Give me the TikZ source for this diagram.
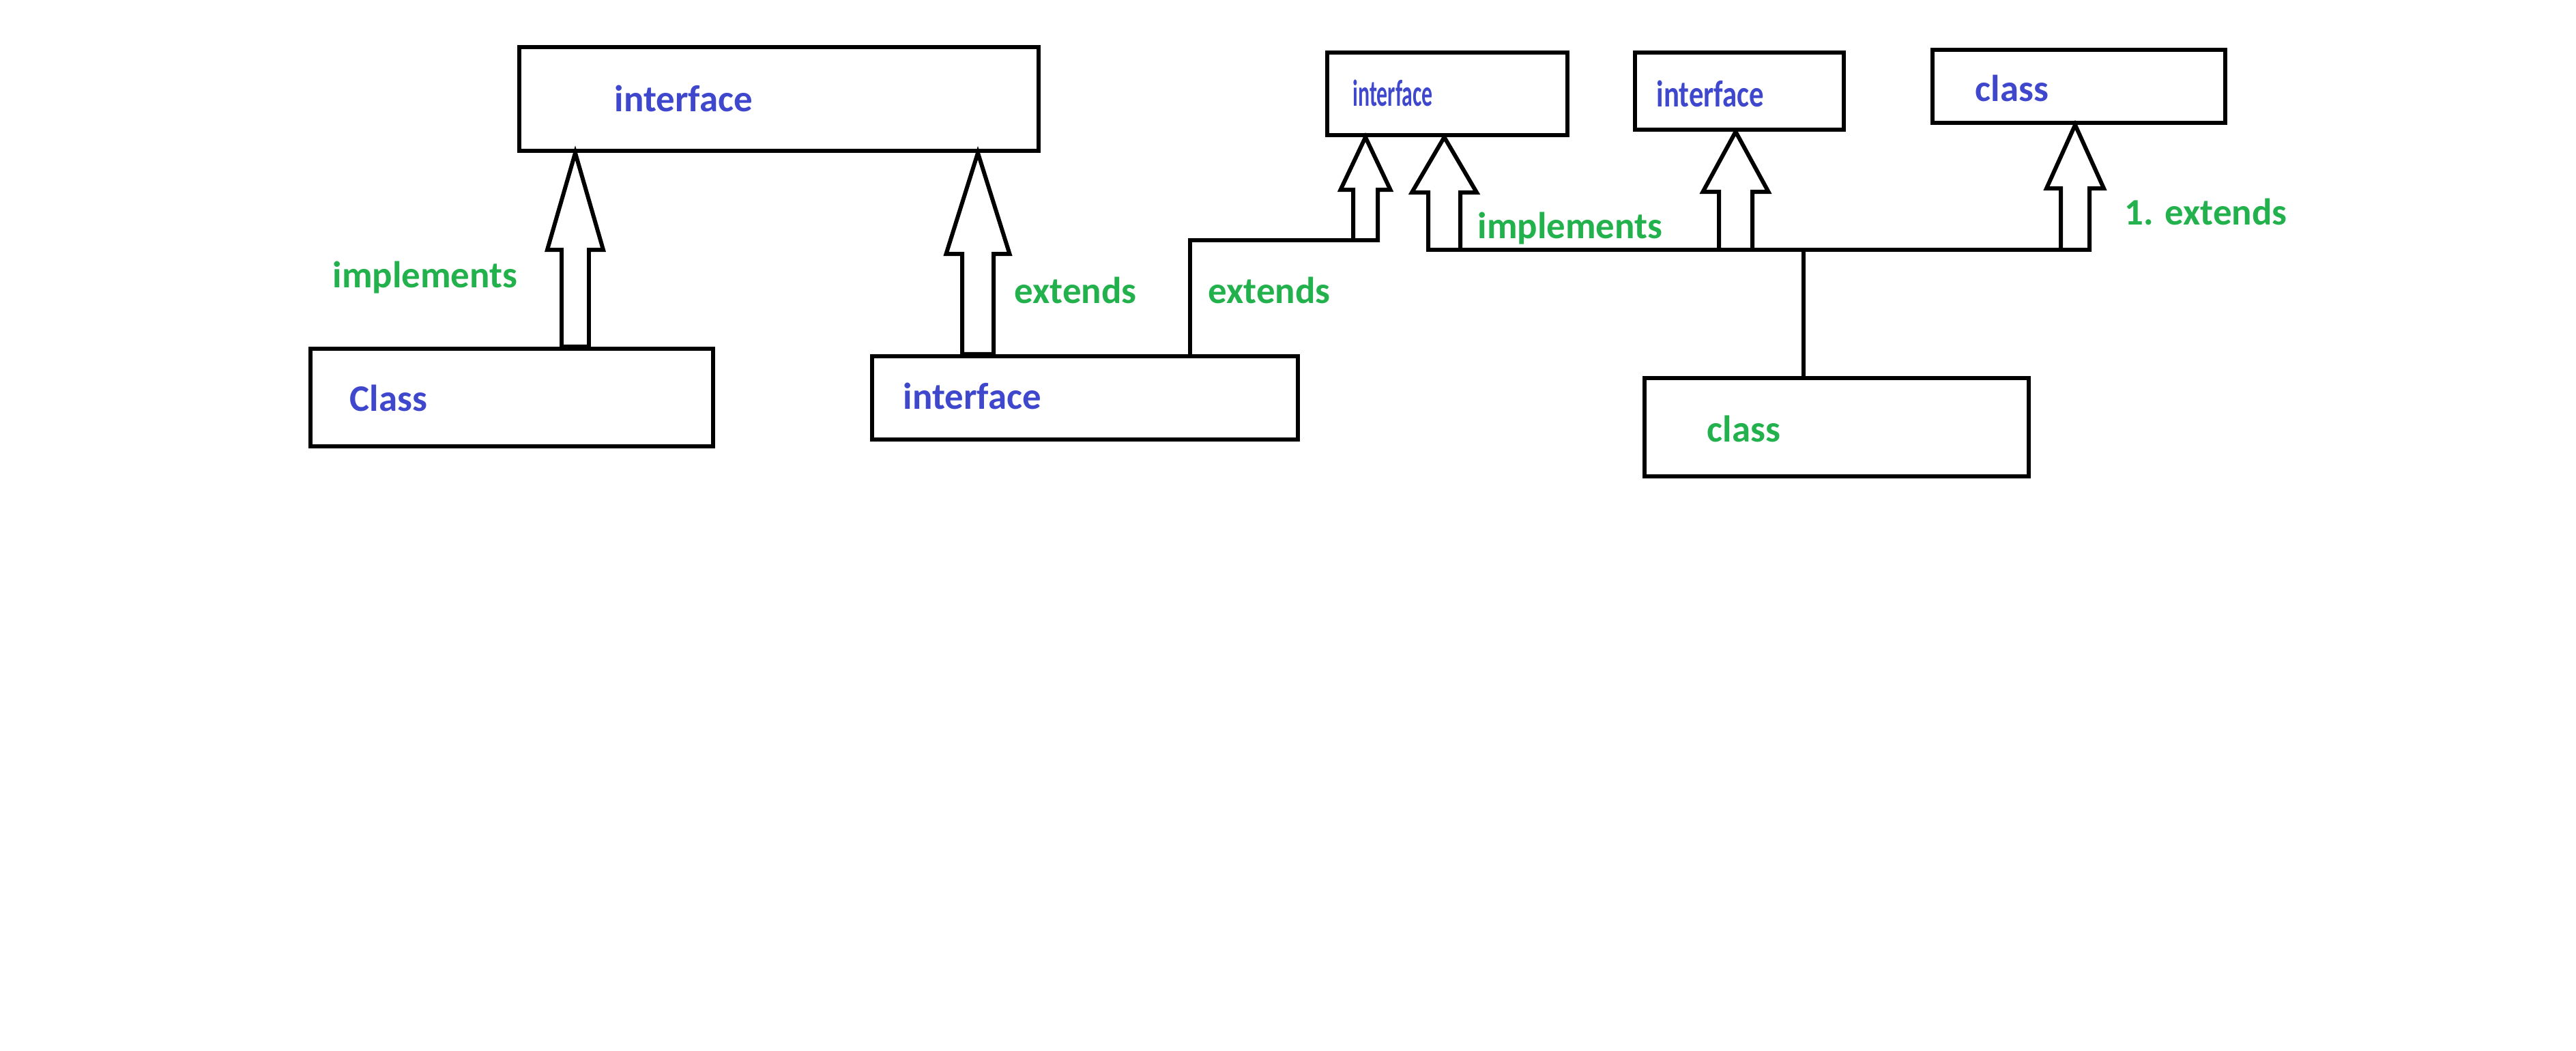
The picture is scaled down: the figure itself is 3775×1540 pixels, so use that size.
\documentclass[tikz,border=0pt]{standalone}
\usepackage{fontspec}
\setmainfont{Carlito}
\usetikzlibrary{calc}

\definecolor{ifblue}{RGB}{63,72,204}
\definecolor{relgreen}{RGB}{34,177,76}

\tikzset{
  box/.style={draw=black, line width=1.7pt, rectangle, inner sep=0pt},
  lbl/.style={anchor=base west, inner sep=0pt, font=\fontsize{15.6}{18}\selectfont\bfseries},
  iftext/.style={lbl, text=ifblue},
  reltext/.style={lbl, text=relgreen},
  conn/.style={draw=black, line width=1.7pt, line join=miter},
  blockarrow/.style={conn, fill=white}
}

% hollow UML-style arrow: #1 name, #2 column x, #3 tip anchor, #4 foot anchor,
% #5 half shaft width, #6 half head width, #7 head length
\newcommand{\hollowarrow}[7]{%
  \coordinate (#1col) at (#2,0);
  \coordinate (#1tip) at (#1col |- #3);
  \coordinate (#1foot) at (#1col |- #4);
  \draw[blockarrow] (#1tip) -- ($(#1tip)+(#6,#7)$) -- ($(#1tip)+(#5,#7)$)
    -- ($(#1foot)+(#5,0)$) -- ($(#1foot)+(-#5,0)$) -- ($(#1tip)+(-#5,#7)$)
    -- ($(#1tip)+(-#6,#7)$) -- cycle;
}

\begin{document}
\begin{tikzpicture}[x=0.01cm, y=-0.01cm]
\useasboundingbox (0,0) rectangle (3775,1540);

% boxes
\node[box, minimum width=7.61cm, minimum height=1.52cm] (itop) at (1141.5,145) {};
\node[box, minimum width=5.90cm, minimum height=1.43cm] (cls) at (750,582.5) {};
\node[box, minimum width=6.24cm, minimum height=1.22cm] (iftwo) at (1590,583) {};
\node[box, minimum width=3.52cm, minimum height=1.21cm] (ifthree) at (2121,137.5) {};
\node[box, minimum width=3.06cm, minimum height=1.13cm] (iffour) at (2549,133.5) {};
\node[box, minimum width=4.29cm, minimum height=1.07cm] (clstop) at (3046.5,126.5) {};
\node[box, minimum width=5.63cm, minimum height=1.44cm] (clsbot) at (2691.5,626) {};

% box texts
\node[iftext] (titop) at (900,164) {interface};
\node[iftext] (tcls) at (512,603) {Class};
\node[iftext] (tiftwo) at (1323,600) {interface};
\node[iftext, xscale=0.58] (tifthree) at (1982,156) {interface};
\node[iftext, xscale=0.78] (tiffour) at (2427,157) {interface};
\node[iftext] (tclstop) at (2894,149) {class};
\node[reltext] (tclsbot) at (2501,648) {class};

% left pair: implements / extends
\hollowarrow{aa}{843}{itop.south}{cls.north}{20}{41}{142}
\hollowarrow{ab}{1433}{itop.south}{iftwo.north}{23}{46.5}{148}

% routed extends from the lower interface
\coordinate (bendx) at (1744,0);
\coordinate (extfoot) at (2001,352);
\hollowarrow{ac}{2001}{ifthree.south}{extfoot}{18}{36.5}{77}
\draw[conn] (bendx |- iftwo.north) |- (extfoot);

% class with one bus to two interfaces and a superclass
\coordinate (busl) at (2093,366);
\coordinate (busr) at (3062,366);
\coordinate (drop) at (2643,0);
\hollowarrow{ad}{2116.5}{ifthree.south}{busl}{23.5}{47.5}{81}
\hollowarrow{ae}{2543.5}{iffour.south}{busl}{24.5}{48}{88}
\hollowarrow{af}{3041}{clstop.south}{busr}{21}{42}{93}
\draw[conn] (busl) -- (busr);
\draw[conn] (drop |- clsbot.north) -- (drop |- busl);

% relation labels
\node[reltext] (limpa) at (487,422) {implements};
\node[reltext] (lexta) at (1486,445) {extends};
\node[reltext] (lextb) at (1770,445) {extends};
\node[reltext] (limpb) at (2165,350) {implements};
\node[reltext] (lextc) at (3113,330) {1. extends};
\end{tikzpicture}
\end{document}
